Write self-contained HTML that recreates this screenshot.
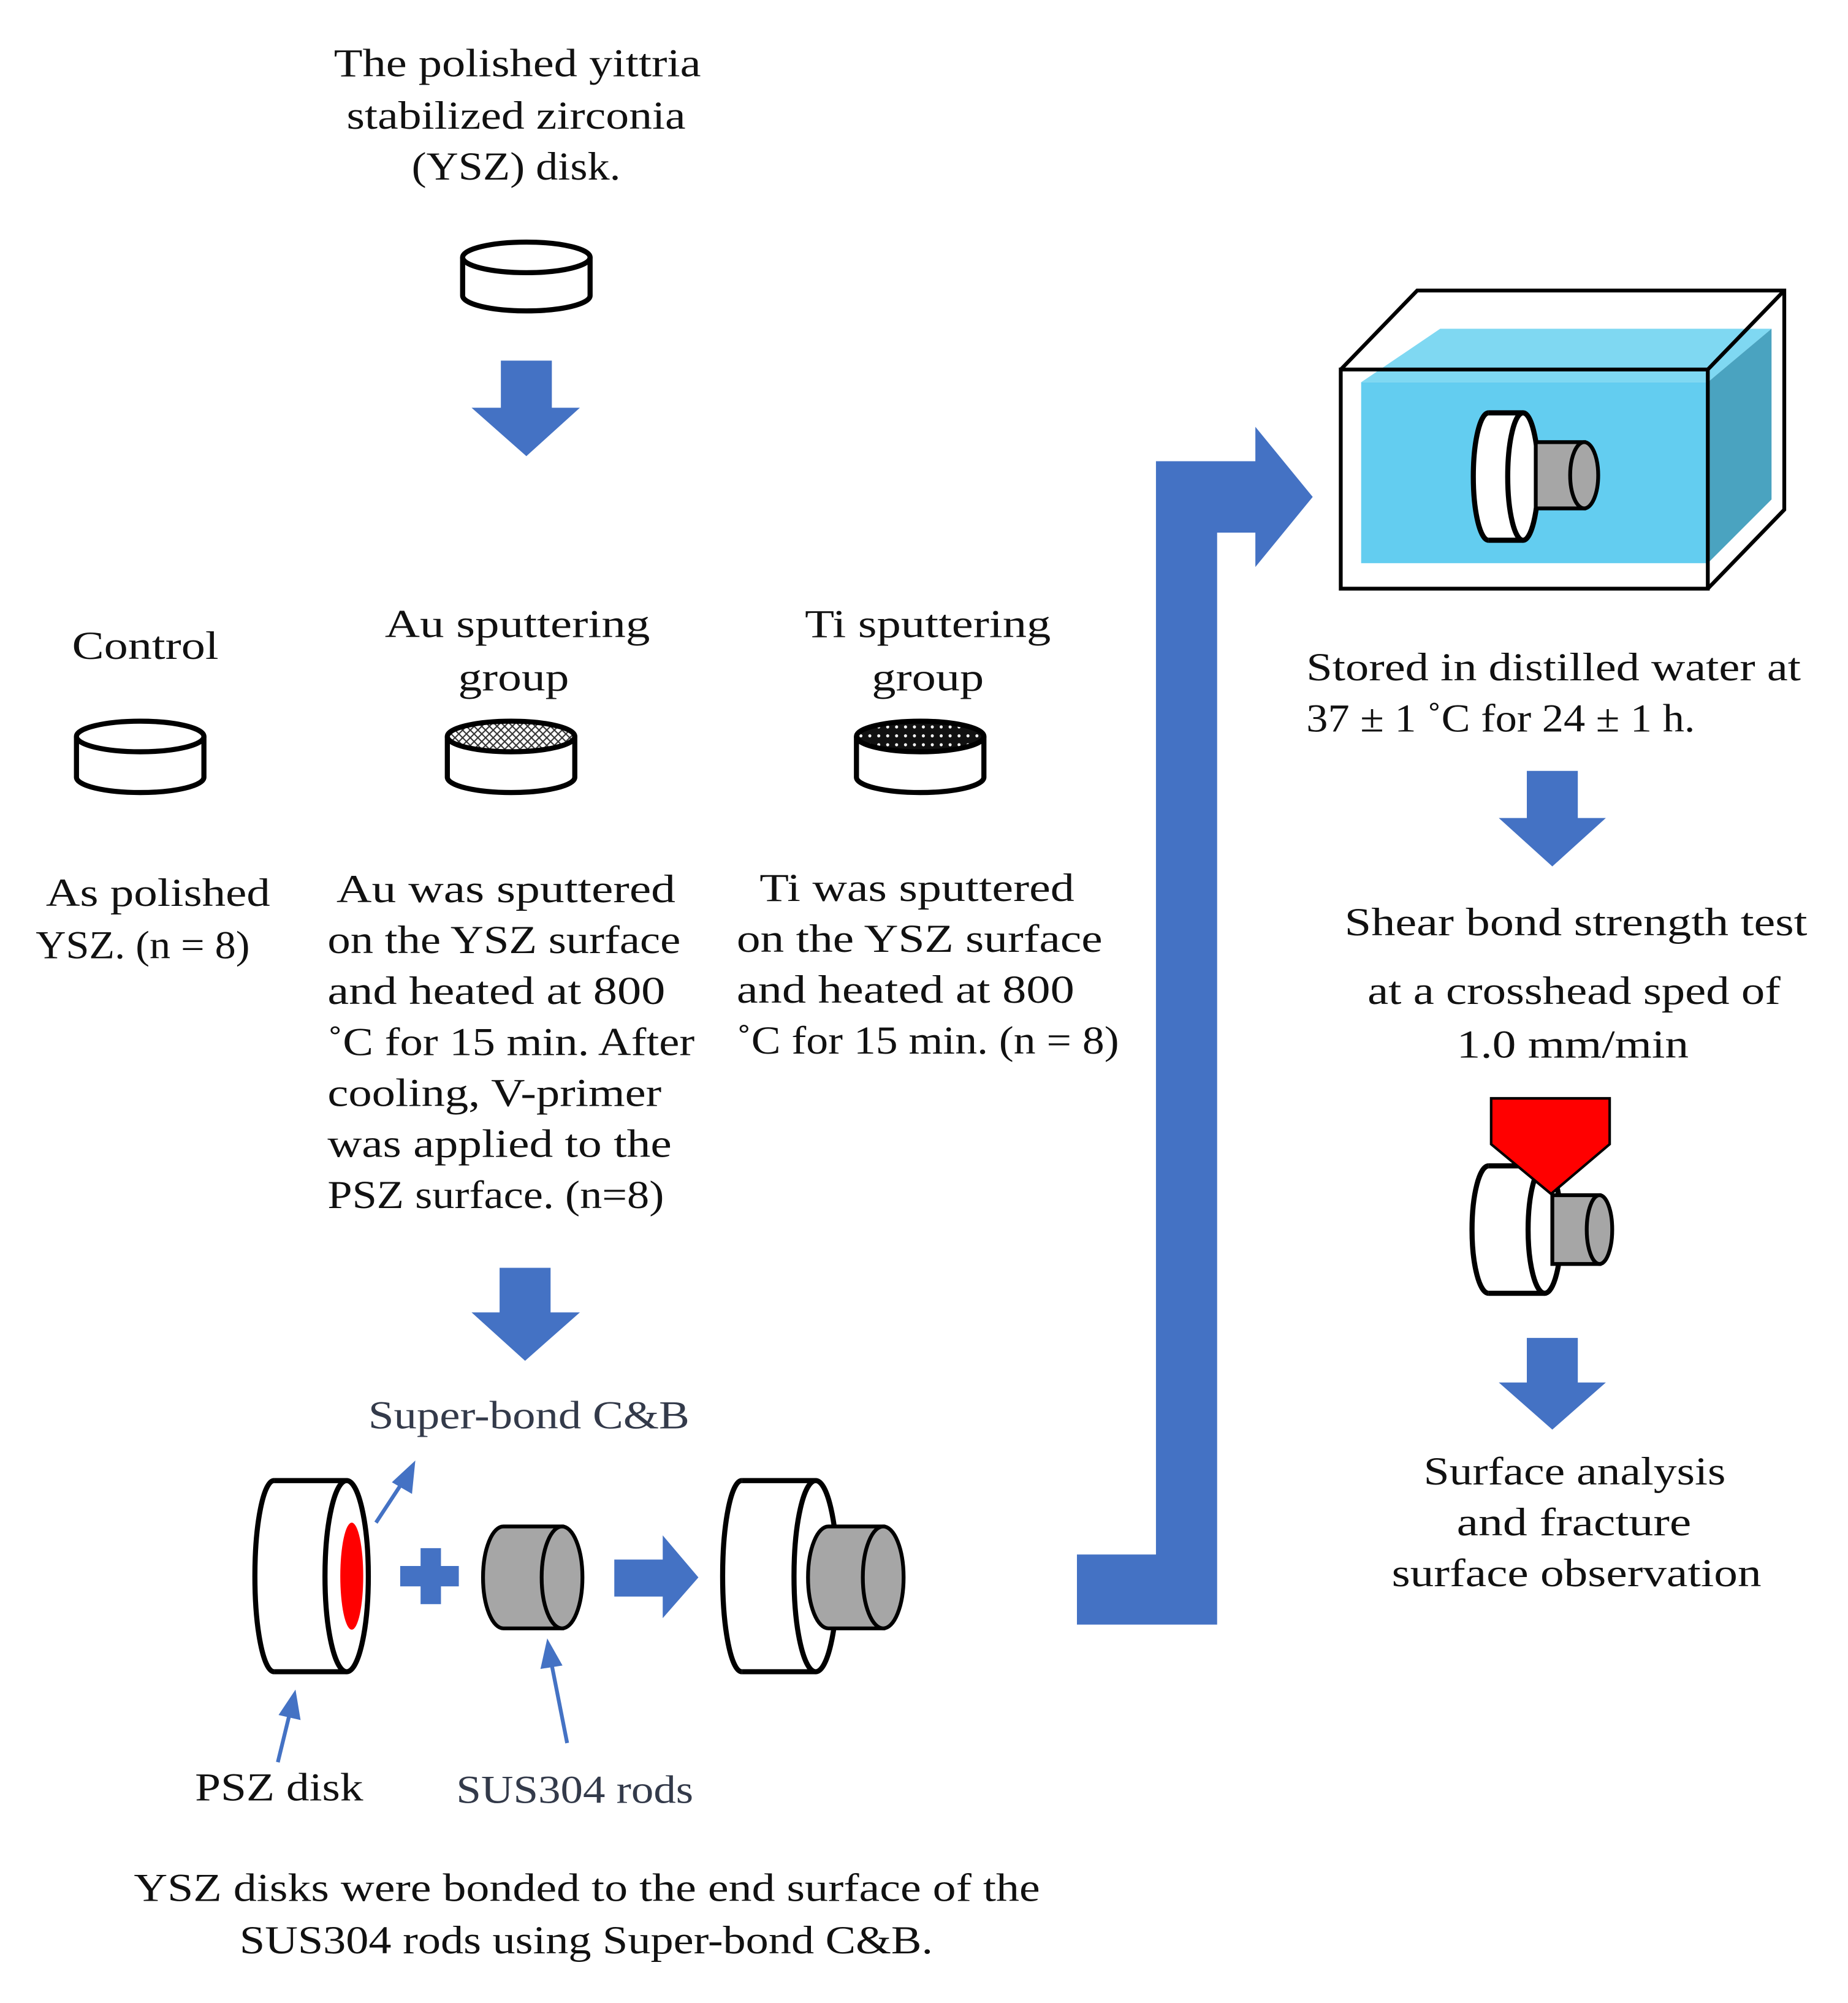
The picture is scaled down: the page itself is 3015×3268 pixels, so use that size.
<!DOCTYPE html>
<html><head><meta charset="utf-8"><style>
html,body{margin:0;padding:0;background:#fff}
svg{display:block}
text{font-family:"Liberation Serif",serif;font-size:31px;fill:#111}
</style></head><body>
<svg width="3015" height="3268" viewBox="0 0 1450 1572" preserveAspectRatio="none" xmlns="http://www.w3.org/2000/svg">
<defs>
<pattern id="hatch" width="6" height="6" patternUnits="userSpaceOnUse">
<path d="M0,0 L6,6 M6,0 L0,6" stroke="#333" stroke-width="1"/>
</pattern>
<pattern id="dots" width="7" height="7" patternUnits="userSpaceOnUse">
<rect width="7" height="7" fill="#111"/><circle cx="3.5" cy="3.5" r="1.2" fill="#fff"/>
</pattern>
</defs>
<rect width="1450" height="1572" fill="#fff"/>

<g text-anchor="middle">
<text x="406" y="60" textLength="288" lengthAdjust="spacingAndGlyphs">The polished yittria</text>
<text x="405" y="101" textLength="266" lengthAdjust="spacingAndGlyphs">stabilized zirconia</text>
<text x="405" y="141" textLength="164" lengthAdjust="spacingAndGlyphs">(YSZ) disk.</text>
</g>
<g stroke="#000" stroke-width="4" fill="#fff">
<path d="M363,202 V232 A50,12 0 0 0 463,232 V202"/>
<ellipse cx="413" cy="202" rx="50" ry="12"/>
</g>
<polygon points="393,283 433,283 433,320 455,320 413,358 370,320 393,320" fill="#4472c4"/>

<g text-anchor="middle">
<text x="114" y="517" textLength="115" lengthAdjust="spacingAndGlyphs">Control</text>
<text x="406" y="500" textLength="208" lengthAdjust="spacingAndGlyphs">Au sputtering</text>
<text x="403" y="542" textLength="87" lengthAdjust="spacingAndGlyphs">group</text>
<text x="728" y="500" textLength="193" lengthAdjust="spacingAndGlyphs">Ti sputtering</text>
<text x="728" y="542" textLength="88" lengthAdjust="spacingAndGlyphs">group</text>
</g>
<g stroke="#000" stroke-width="4" fill="#fff">
<path d="M60,578 V610 A50,12 0 0 0 160,610 V578"/>
<ellipse cx="110" cy="578" rx="50" ry="12"/>
<path d="M351,578 V610 A50,12 0 0 0 451,610 V578"/>
<ellipse cx="401" cy="578" rx="50" ry="12" fill="url(#hatch)"/>
<path d="M672,578 V610 A50,12 0 0 0 772,610 V578"/>
<ellipse cx="722" cy="578" rx="50" ry="12" fill="url(#dots)"/>
</g>

<text x="36" y="711" textLength="176" lengthAdjust="spacingAndGlyphs">As polished</text>
<text x="28" y="752" textLength="168" lengthAdjust="spacingAndGlyphs">YSZ. (n = 8)</text>
<g>
<text x="264" y="708" textLength="266" lengthAdjust="spacingAndGlyphs">Au was sputtered</text>
<text x="257" y="748" textLength="277" lengthAdjust="spacingAndGlyphs">on the YSZ surface</text>
<text x="257" y="788" textLength="265" lengthAdjust="spacingAndGlyphs">and  heated at 800</text>
<text x="257" y="828" textLength="288" lengthAdjust="spacingAndGlyphs">˚C for 15 min. After</text>
<text x="257" y="868" textLength="262" lengthAdjust="spacingAndGlyphs">cooling, V-primer</text>
<text x="257" y="908" textLength="270" lengthAdjust="spacingAndGlyphs">was applied to the</text>
<text x="257" y="948" textLength="264" lengthAdjust="spacingAndGlyphs">PSZ surface. (n=8)</text>
<text x="596" y="707" textLength="247" lengthAdjust="spacingAndGlyphs">Ti was sputtered</text>
<text x="578" y="747" textLength="287" lengthAdjust="spacingAndGlyphs">on the YSZ  surface</text>
<text x="578" y="787" textLength="265" lengthAdjust="spacingAndGlyphs">and  heated at 800</text>
<text x="578" y="827" textLength="300" lengthAdjust="spacingAndGlyphs">˚C for 15 min. (n = 8)</text>
</g>

<polygon points="392,995 432,995 432,1030 455,1030 412,1068 370,1030 392,1030" fill="#4472c4"/>
<text x="289" y="1121" textLength="252" lengthAdjust="spacingAndGlyphs" style="fill:#333a4a">Super-bond C&amp;B</text>

<g stroke="#000" stroke-width="4">
<rect x="212" y="1164" width="60" height="146" fill="#fff" stroke="none"/>
<path d="M215,1162 A15,75 0 0 0 215,1312" fill="#fff"/>
<path d="M215,1162 H272 M215,1312 H272" fill="none"/>
<ellipse cx="272" cy="1237" rx="17" ry="75" fill="#fff"/>
</g>
<ellipse cx="276" cy="1237" rx="9" ry="42" fill="#f00"/>
<path d="M330,1215 h16 v14 h14 v16 h-14 v14 h-16 v-14 h-16 v-16 h16z" fill="#4472c4"/>
<g stroke="#000" stroke-width="3" fill="#a6a6a6">
<path d="M395,1198 H441 V1278 H395 A16,40 0 0 1 395,1198 Z"/>
<ellipse cx="441" cy="1238" rx="16" ry="40"/>
</g>
<polygon points="482,1224 520,1224 520,1205 548,1238 520,1270 520,1253 482,1253" fill="#4472c4"/>
<g stroke="#000" stroke-width="4">
<rect x="580" y="1164" width="60" height="146" fill="#fff" stroke="none"/>
<path d="M582,1162 A15,75 0 0 0 582,1312" fill="#fff"/>
<path d="M582,1162 H640 M582,1312 H640" fill="none"/>
<ellipse cx="640" cy="1237" rx="17" ry="75" fill="#fff"/>
</g>
<g stroke="#000" stroke-width="3" fill="#a6a6a6">
<path d="M650,1198 H693 V1278 H650 A16,40 0 0 1 650,1198 Z"/>
<ellipse cx="693" cy="1238" rx="16" ry="40"/>
</g>
<g stroke="#4472c4" stroke-width="3" fill="#4472c4">
<line x1="295" y1="1195" x2="318" y2="1160"/><polygon points="324,1150 322,1170 310,1163"/>
<line x1="218" y1="1383" x2="228" y2="1342"/><polygon points="231,1330 234,1348 221,1345"/>
<line x1="445" y1="1368" x2="432" y2="1302"/><polygon points="430,1290 439,1306 426,1308"/>
</g>
<text x="153" y="1413" textLength="132" lengthAdjust="spacingAndGlyphs">PSZ disk</text>
<text x="358" y="1415" textLength="186" lengthAdjust="spacingAndGlyphs" style="fill:#333a4a">SUS304 rods</text>
<text x="105" y="1492" textLength="711" lengthAdjust="spacingAndGlyphs">YSZ disks were bonded to the end surface of the</text>
<text x="188" y="1533" textLength="544" lengthAdjust="spacingAndGlyphs">SUS304 rods using Super-bond C&amp;B.</text>

<polygon points="845,1220 907,1220 907,362 985,362 985,335 1030,390 985,445 985,418 955,418 955,1275 845,1275" fill="#4472c4"/>

<polygon points="1068,300 1130,258 1390,258 1340,300" fill="#7fd8f2"/>
<polygon points="1340,300 1390,258 1390,392 1340,442" fill="#4aa3c0"/>
<rect x="1068" y="300" width="272" height="142" fill="#63cdf0"/>
<g stroke="#000" stroke-width="3" fill="none">
<rect x="1052" y="290" width="288" height="172"/>
<path d="M1052,290 L1112,228 H1400 V400 L1340,462 M1340,290 L1400,228"/>
</g>
<g stroke="#000" stroke-width="4">
<rect x="1167" y="326" width="30" height="96" fill="#fff" stroke="none"/>
<path d="M1168,324 A12,50 0 0 0 1168,424" fill="#fff"/>
<path d="M1168,324 H1195 M1168,424 H1195" fill="none"/>
<ellipse cx="1195" cy="374" rx="12" ry="50" fill="#fff"/>
</g>
<g stroke="#000" stroke-width="3" fill="#a6a6a6">
<path d="M1205,347 H1243 V399 H1205 Z"/>
<ellipse cx="1243" cy="373" rx="11" ry="26"/>
</g>

<text x="1025" y="534" textLength="388" lengthAdjust="spacingAndGlyphs">Stored in distilled water at</text>
<text x="1025" y="574" textLength="305" lengthAdjust="spacingAndGlyphs">37 ± 1 ˚C for 24 ± 1 h.</text>
<polygon points="1198,605 1238,605 1238,642 1260,642 1218,680 1176,642 1198,642" fill="#4472c4"/>
<text x="1055" y="734" textLength="363" lengthAdjust="spacingAndGlyphs">Shear bond strength test</text>
<text x="1073" y="788" textLength="324" lengthAdjust="spacingAndGlyphs">at a crosshead sped of</text>
<text x="1143" y="830" textLength="182" lengthAdjust="spacingAndGlyphs">1.0 mm/min</text>
<g stroke="#000" stroke-width="4">
<rect x="1167" y="917" width="45" height="96" fill="#fff" stroke="none"/>
<path d="M1168,915 A13,50 0 0 0 1168,1015" fill="#fff"/>
<path d="M1168,915 H1212 M1168,1015 H1212" fill="none"/>
<ellipse cx="1212" cy="965" rx="13" ry="50" fill="#fff"/>
</g>
<g stroke="#000" stroke-width="3" fill="#a6a6a6">
<path d="M1218,938 H1255 V992 H1218 Z"/>
<ellipse cx="1255" cy="965" rx="10" ry="27"/>
</g>
<polygon points="1170,862 1263,862 1263,898 1217,937 1170,898" fill="#f00" stroke="#000" stroke-width="2"/>
<polygon points="1198,1050 1238,1050 1238,1085 1260,1085 1218,1122 1176,1085 1198,1085" fill="#4472c4"/>
<text x="1117" y="1165" textLength="237" lengthAdjust="spacingAndGlyphs">Surface analysis</text>
<text x="1143" y="1205" textLength="184" lengthAdjust="spacingAndGlyphs">and fracture</text>
<text x="1092" y="1245" textLength="290" lengthAdjust="spacingAndGlyphs">surface observation</text>
</svg>
</body></html>
